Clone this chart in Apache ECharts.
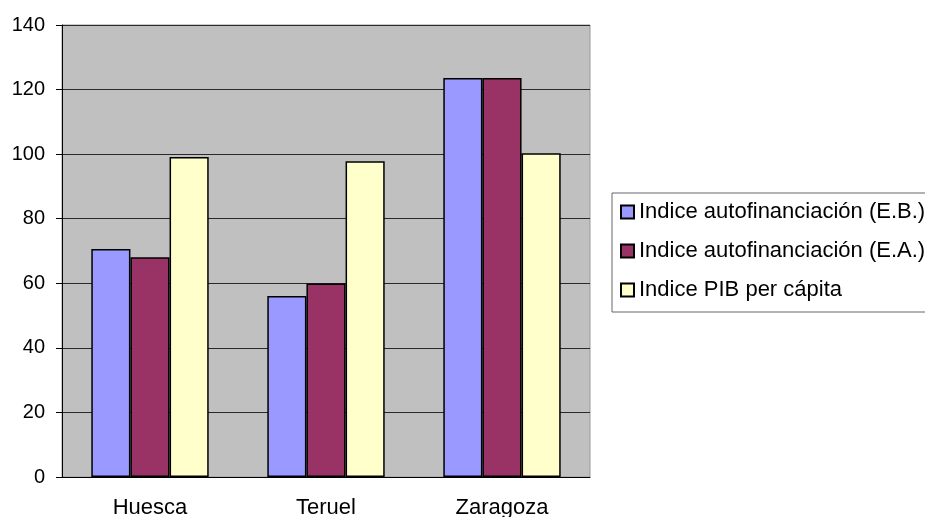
<!DOCTYPE html>
<html>
<head>
	<meta charset="utf-8">
	<title>Indices por provincia</title>
	<script src="https://cdn.jsdelivr.net/npm/echarts@6/dist/echarts.min.js"></script>
	<style>
		html, body { margin: 0; padding: 0; background: #fff; }
		#chart { width: 925px; height: 517px; }
	</style>
</head>
<body>
	<div id="chart"></div>
	<script>
		// datos
		var provincias = ['Huesca', 'Teruel', 'Zaragoza'];
		var seriesNames = ['Indice autofinanciación (E.B.)', 'Indice autofinanciación (E.A.)', 'Indice PIB per cápita'];
		var autofinEB = [70.6, 56.1, 123.6];
		var autofinEA = [68.1, 59.9, 123.6];
		var pibPerCapita = [99.1, 97.8, 100.3];
		var colores = ['#9999FF', '#993366', '#FFFFCC'];

		var fuente = "'Liberation Sans', Arial, sans-serif";
		var chart = echarts.init(document.getElementById('chart'));

		function serie(nombre, datos, color) {
			return {
				name: nombre,
				type: 'bar',
				data: datos,
				barGap: '0%',
				barCategoryGap: '33.3%',
				itemStyle: { color: color, borderColor: '#000', borderWidth: 1.5 }
			};
		}

		chart.setOption({
			animation: false,
			textStyle: { fontFamily: fuente },
			grid: {
				left: 62, top: 25, right: 335, bottom: 40,
				outerBoundsMode: 'none',
				show: true, backgroundColor: '#C0C0C0', borderColor: '#999', borderWidth: 1
			},
			legend: {
				orient: 'vertical',
				left: 612, top: 193,
				padding: [7, 30, 10, 8],
				borderColor: '#666', borderWidth: 1,
				itemWidth: 13, itemHeight: 13, itemGap: 15,
				icon: 'rect',
				textStyle: { fontSize: 22, color: '#000', fontFamily: fuente, lineHeight: 24, padding: [0, 0, 0, 0] },
				data: seriesNames
			},
			xAxis: {
				type: 'category',
				data: provincias,
				axisLine: { lineStyle: { color: '#000', width: 1 } },
				axisTick: { length: 6, lineStyle: { color: '#000' } },
				axisLabel: { fontSize: 22, color: '#000', margin: 20, fontFamily: fuente }
			},
			yAxis: {
				type: 'value',
				min: 0, max: 140, interval: 20,
				axisLine: { show: true, lineStyle: { color: '#000', width: 1 } },
				axisTick: { show: true, length: 6, lineStyle: { color: '#000' } },
				axisLabel: { fontSize: 20, color: '#000', margin: 17, fontFamily: fuente },
				splitLine: { lineStyle: { color: '#2a2a2a', width: 1 } }
			},
			series: [
				serie(seriesNames[0], autofinEB, colores[0]),
				serie(seriesNames[1], autofinEA, colores[1]),
				serie(seriesNames[2], pibPerCapita, colores[2])
			]
		});
	</script>
</body>
</html>
